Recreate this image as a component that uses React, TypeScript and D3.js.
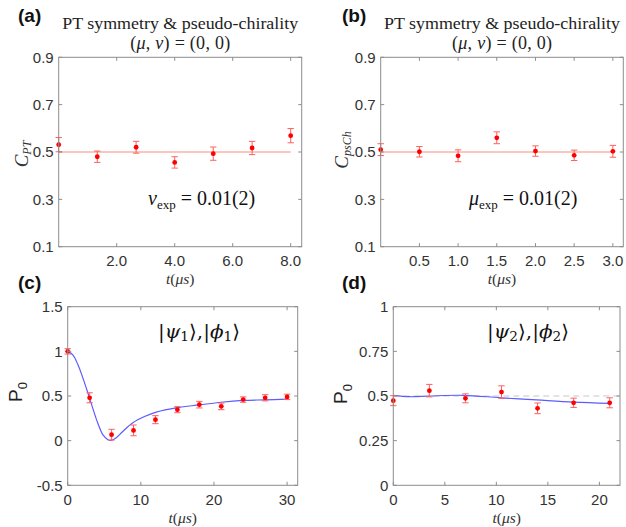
import React from 'react';
import * as d3 from 'd3';

// ---------- data ----------
const tA = [0, 1.33, 2.67, 4, 5.33, 6.67, 8];
const cPT = [0.531, 0.48, 0.52, 0.456, 0.493, 0.517, 0.569];
const cPTErr = [0.03, 0.024, 0.025, 0.024, 0.028, 0.028, 0.03];
const refA = [0.5, 0.5];
const refAT = [0, 8];

const tB = [0, 0.5, 1, 1.5, 2, 2.5, 3];
const cPsCh = [0.51, 0.501, 0.484, 0.56, 0.504, 0.486, 0.503];
const cPsChErr = [0.025, 0.022, 0.025, 0.025, 0.022, 0.022, 0.025];
const refB = [0.5, 0.5];
const refBT = [0, 3];

const tC = [0, 3, 6, 9, 12, 15, 18, 21, 24, 27, 30];
const p0C = [1.0, 0.48, 0.067, 0.115, 0.235, 0.347, 0.403, 0.384, 0.46, 0.48, 0.49];
const p0CErr = [0.03, 0.056, 0.06, 0.06, 0.045, 0.034, 0.037, 0.037, 0.03, 0.035, 0.03];
const fitCT = [0, 0.7, 1.4, 2, 2.7, 3.4, 4.1, 4.8, 5.5, 5.9, 6.6, 7.5, 8.9, 10.5, 12.1, 15, 18, 21, 24, 27, 30];
const fitCP = [1.0, 0.96, 0.85, 0.72, 0.55, 0.37, 0.2, 0.067, 0.011, 0.003, 0.03, 0.1, 0.2, 0.27, 0.32, 0.37, 0.4, 0.43, 0.45, 0.457, 0.465];

const tD = [0, 3.5, 7, 10.5, 14, 17.5, 21];
const p0D = [0.474, 0.53, 0.487, 0.522, 0.431, 0.462, 0.462];
const p0DErr = [0.028, 0.035, 0.025, 0.035, 0.03, 0.026, 0.028];
const fitDT = [0, 1.6, 3.5, 6.8, 10.4, 13.9, 17.5, 21];
const fitDP = [0.504, 0.496, 0.5, 0.504, 0.49, 0.478, 0.466, 0.459];
const dashD = [0.5, 0.5];
const dashDT = [0, 22];

const ticksA_x = [2, 4, 6, 8];
const ticksA_y = [0.1, 0.3, 0.5, 0.7, 0.9];
const ticksB_x = [0.5, 1, 1.5, 2, 2.5, 3];
const ticksC_x = [0, 10, 20, 30];
const ticksC_y = [-0.5, 0, 0.5, 1, 1.5];
const ticksD_x = [0, 5, 10, 15, 20];
const ticksD_y = [0, 0.25, 0.5, 0.75, 1];

// ---------- styles ----------
const FRAME = '#8c8c8c';
const TICKTXT = '#333333';
const SANS = '"Liberation Sans", Arial, Helvetica, sans-serif';
const SERIF = '"Liberation Serif", "DejaVu Serif", serif';
const MATH = '"DejaVu Serif", "Liberation Serif", serif';
const RED = '#ff0000';
const ERR = '#ff6060';
const BLUE = '#5c5cff';
const SALMON = '#f2907c';

type Box = { l: number; r: number; t: number; b: number };

function Axes({
  box, x, y, xTicks, yTicks, xFmt, yFmt, fs,
}: {
  box: Box; x: d3.ScaleLinear<number, number>; y: d3.ScaleLinear<number, number>;
  xTicks: number[]; yTicks: number[]; xFmt: (v: number) => string; yFmt: (v: number) => string; fs: number;
}) {
  const tl = 3.5;
  return (
    <g>
      {xTicks.map((v, i) => (
        <g key={'x' + i}>
          <line x1={x(v)} x2={x(v)} y1={box.b} y2={box.b - tl} stroke={FRAME} />
          <line x1={x(v)} x2={x(v)} y1={box.t} y2={box.t + tl} stroke={FRAME} />
          <text x={x(v)} y={box.b + 19.5} textAnchor="middle" fontFamily={SANS} fontSize={fs} fill={TICKTXT}>{xFmt(v)}</text>
        </g>
      ))}
      {yTicks.map((v, i) => (
        <g key={'y' + i}>
          <line x1={box.l} x2={box.l + tl} y1={y(v)} y2={y(v)} stroke={FRAME} />
          <line x1={box.r} x2={box.r - tl} y1={y(v)} y2={y(v)} stroke={FRAME} />
          <text x={box.l - 5} y={y(v) + fs * 0.36} textAnchor="end" fontFamily={SANS} fontSize={fs} fill={TICKTXT}>{yFmt(v)}</text>
        </g>
      ))}
      <rect x={box.l} y={box.t} width={box.r - box.l} height={box.b - box.t} fill="none" stroke={FRAME} strokeWidth={1} />
    </g>
  );
}

function Points({ x, y, ts, vs, es }: { x: any; y: any; ts: number[]; vs: number[]; es: number[] }) {
  const cap = 3.2;
  return (
    <g>
      {ts.map((t, i) => {
        const cx = x(t);
        const y1 = y(vs[i] - es[i]);
        const y2 = y(vs[i] + es[i]);
        return (
          <g key={i}>
            <line x1={cx} x2={cx} y1={y1} y2={y2} stroke={ERR} strokeWidth={1} />
            <line x1={cx - cap} x2={cx + cap} y1={y1} y2={y1} stroke={ERR} strokeWidth={1} />
            <line x1={cx - cap} x2={cx + cap} y1={y2} y2={y2} stroke={ERR} strokeWidth={1} />
            <circle cx={cx} cy={y(vs[i])} r={2.4} fill={RED} />
          </g>
        );
      })}
    </g>
  );
}

function linePath(x: any, y: any, ts: number[], vs: number[], curve: any = d3.curveLinear) {
  const g = d3.line<number>().x((_, i) => x(ts[i])).y((v) => y(v)).curve(curve);
  return g(vs) || '';
}

const fmt1 = d3.format('.1f');
const fmtG = (v: number) => String(v);

export default function App() {
  // panel boxes
  const bA: Box = { l: 58.7, r: 301.7, t: 57.3, b: 246.7 };
  const bB: Box = { l: 380.7, r: 623.3, t: 57.3, b: 246.7 };
  const bC: Box = { l: 67.7, r: 297.7, t: 306.7, b: 485.3 };
  const bD: Box = { l: 393.3, r: 620, t: 306.7, b: 485.3 };

  const xA = d3.scaleLinear().domain([0, 8.38]).range([bA.l, bA.r]);
  const yA = d3.scaleLinear().domain([0.1, 0.9]).range([bA.b, bA.t]);
  const xB = d3.scaleLinear().domain([0, 3.135]).range([bB.l, bB.r]);
  const yB = d3.scaleLinear().domain([0.1, 0.9]).range([bB.b, bB.t]);
  const xC = d3.scaleLinear().domain([0, 31.45]).range([bC.l, bC.r]);
  const yC = d3.scaleLinear().domain([-0.5, 1.5]).range([bC.b, bC.t]);
  const xD = d3.scaleLinear().domain([0, 22]).range([bD.l, bD.r]);
  const yD = d3.scaleLinear().domain([0, 1]).range([bD.b, bD.t]);

  const fs = 15;
  const cxA = (bA.l + bA.r) / 2;
  const cxB = (bB.l + bB.r) / 2;
  const cxC = (bC.l + bC.r) / 2;
  const cxD = (bD.l + bD.r) / 2;

  const title = (cx: number) => (
    <g fontFamily={SERIF} fill="#222">
      <text x={cx} y={29} textAnchor="middle" fontSize={17} textLength={236} lengthAdjust="spacingAndGlyphs">PT symmetry &amp; pseudo-chirality</text>
      <text x={cx} y={49} textAnchor="middle" fontSize={18} textLength={100} lengthAdjust="spacing">
        (<tspan fontStyle="italic">μ</tspan>, <tspan fontStyle="italic">ν</tspan>) = (0, 0)
      </text>
    </g>
  );

  const tLabel = (cx: number, yy: number) => (
    <text x={cx} y={yy} textAnchor="middle" fontFamily={SERIF} fontSize={15.5} fill="#333">
      <tspan fontStyle="italic">t</tspan>(<tspan fontStyle="italic">μs</tspan>)
    </text>
  );

  const panelLabel = (s: string, x: number, y: number) => (
    <text x={x} y={y} fontFamily={SANS} fontWeight="bold" fontSize={19} fill="#111">{s}</text>
  );

  const ket = (n: string, x: number) => (
    <text x={x} y={338} fontFamily={MATH} fontSize={19} fill="#111" textLength={82} lengthAdjust="spacingAndGlyphs">
      |<tspan fontStyle="italic">ψ</tspan><tspan fontSize={13} dy={3}>{n}</tspan><tspan dy={-3}>⟩,|</tspan><tspan fontStyle="italic">ϕ</tspan><tspan fontSize={13} dy={3}>{n}</tspan><tspan dy={-3}>⟩</tspan>
    </text>
  );

  return (
    <svg width={626} height={527} style={{ position: 'absolute', left: 0, top: 0, background: '#fff' }}>
      <rect x={0} y={0} width={626} height={527} fill="#fff" />

      {/* ---------- (a) ---------- */}
      {panelLabel('(a)', 18, 22)}
      {title(cxA)}
      <path d={linePath(xA, yA, refAT, refA)} stroke={SALMON} strokeWidth={1.2} fill="none" />
      <Points x={xA} y={yA} ts={tA} vs={cPT} es={cPTErr} />
      <Axes box={bA} x={xA} y={yA} xTicks={ticksA_x} yTicks={ticksA_y} xFmt={fmt1} yFmt={fmt1} fs={fs} />
      <text x={18} y={(bA.t + bA.b) / 2 - 4} transform={`rotate(-90, 24, ${(bA.t + bA.b) / 2 - 4})`} textAnchor="middle" fontFamily={SERIF} fontSize={19} fill="#333" dominantBaseline="middle">
        <tspan fontStyle="italic">C</tspan><tspan fontStyle="italic" fontSize={12} dy={4}>PT</tspan>
      </text>
      <text x={148} y={205} fontFamily={SERIF} fontSize={20} fill="#111">
        <tspan fontStyle="italic">ν</tspan><tspan fontSize={13} dy={4}>exp</tspan><tspan dy={-4}> = 0.01(2)</tspan>
      </text>
      {tLabel(cxA, 284)}

      {/* ---------- (b) ---------- */}
      {panelLabel('(b)', 342, 22)}
      {title(cxB)}
      <path d={linePath(xB, yB, refBT, refB)} stroke={SALMON} strokeWidth={1.2} fill="none" />
      <Points x={xB} y={yB} ts={tB} vs={cPsCh} es={cPsChErr} />
      <Axes box={bB} x={xB} y={yB} xTicks={ticksB_x} yTicks={ticksA_y} xFmt={fmt1} yFmt={fmt1} fs={fs} />
      <text x={344} y={150} transform={`rotate(-90, 344, 150)`} textAnchor="middle" fontFamily={SERIF} fontSize={19} fill="#333" dominantBaseline="middle">
        <tspan fontStyle="italic">C</tspan><tspan fontStyle="italic" fontSize={12} dy={4}>psCh</tspan>
      </text>
      <text x={469} y={205} fontFamily={SERIF} fontSize={20} fill="#111">
        <tspan fontStyle="italic">μ</tspan><tspan fontSize={13} dy={4}>exp</tspan><tspan dy={-4}> = 0.01(2)</tspan>
      </text>
      {tLabel(cxB, 284)}

      {/* ---------- (c) ---------- */}
      {panelLabel('(c)', 18, 289)}
      <path d={linePath(xC, yC, fitCT, fitCP, d3.curveCatmullRom)} stroke={BLUE} strokeWidth={1.2} fill="none" />
      <Points x={xC} y={yC} ts={tC} vs={p0C} es={p0CErr} />
      <Axes box={bC} x={xC} y={yC} xTicks={ticksC_x} yTicks={ticksC_y} xFmt={fmtG} yFmt={fmtG} fs={fs} />
      <text x={22} y={392} transform="rotate(-90, 22, 392)" textAnchor="middle" fontFamily={SANS} fontSize={19} fill="#222">
        P<tspan fontSize={13} dy={5}>0</tspan>
      </text>
      {ket('1', 158)}
      {tLabel(cxC, 522.5)}

      {/* ---------- (d) ---------- */}
      {panelLabel('(d)', 342, 289)}
      <path d={linePath(xD, yD, dashDT, dashD)} stroke="#c8c8c8" strokeWidth={1.2} strokeDasharray="6,4" fill="none" />
      <path d={linePath(xD, yD, fitDT, fitDP, d3.curveCatmullRom)} stroke={BLUE} strokeWidth={1.2} fill="none" />
      <Points x={xD} y={yD} ts={tD} vs={p0D} es={p0DErr} />
      <Axes box={bD} x={xD} y={yD} xTicks={ticksD_x} yTicks={ticksD_y} xFmt={fmtG} yFmt={fmtG} fs={fs} />
      <text x={347} y={394} transform="rotate(-90, 347, 394)" textAnchor="middle" fontFamily={SANS} fontSize={19} fill="#222">
        P<tspan fontSize={13} dy={5}>0</tspan>
      </text>
      {ket('2', 487)}
      {tLabel(cxD, 522.5)}
    </svg>
  );
}
